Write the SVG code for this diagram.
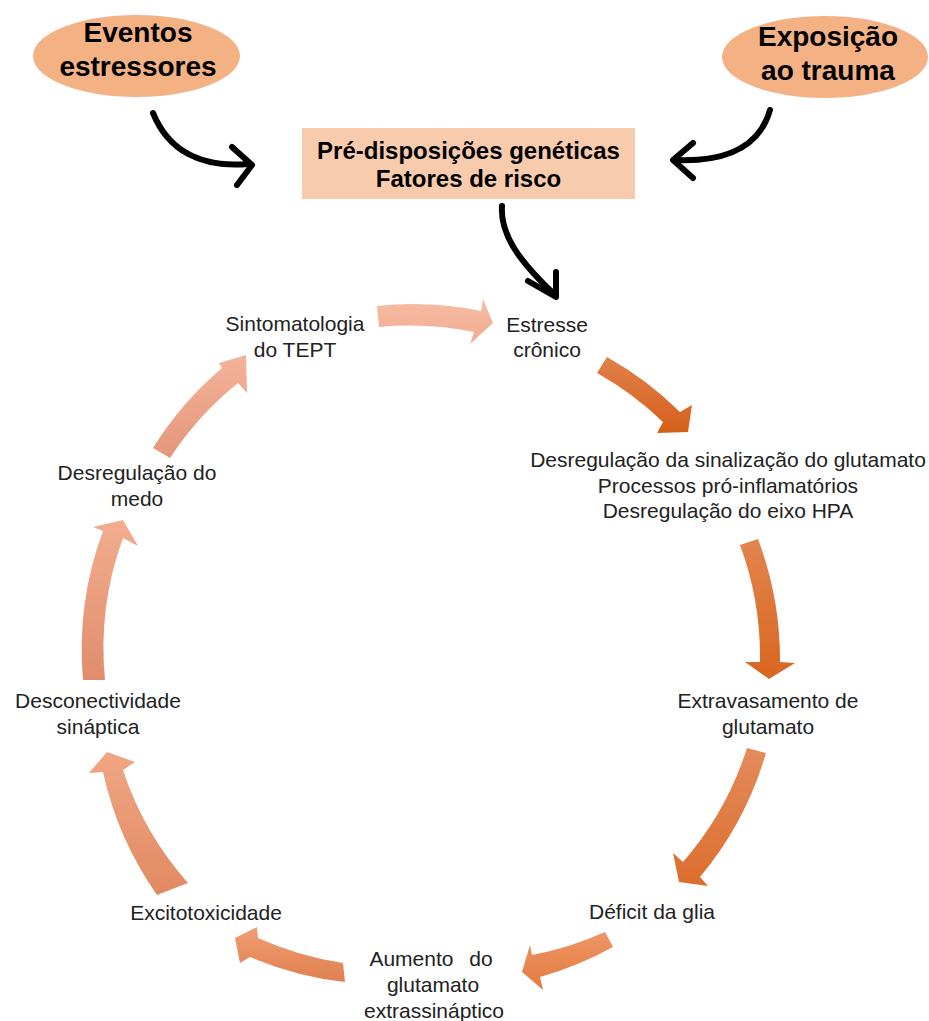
<svg xmlns="http://www.w3.org/2000/svg" width="929" height="1021" viewBox="0 0 929 1021">
<style>
.bold{font-family:"Liberation Sans",Arial,sans-serif;font-weight:bold;fill:#000;text-anchor:middle}
.lbl{font-family:"Liberation Sans",Arial,sans-serif;font-size:21px;fill:#222;text-anchor:middle}
.blk{fill:none;stroke:#000;stroke-width:6;stroke-linecap:round;stroke-linejoin:round}
</style>
<defs>
<linearGradient id="g1" x1="0" y1="0" x2="0" y2="1"><stop offset="0" stop-color="#F6BCA4"/><stop offset="1" stop-color="#F2AC90"/></linearGradient>
<linearGradient id="g2" x1="0" y1="0" x2="0" y2="1"><stop offset="0" stop-color="#E2804A"/><stop offset="1" stop-color="#D4601B"/></linearGradient>
<linearGradient id="g3" x1="0" y1="0" x2="0" y2="1"><stop offset="0" stop-color="#E2854F"/><stop offset="1" stop-color="#D8661F"/></linearGradient>
<linearGradient id="g4" x1="0" y1="0" x2="0" y2="1"><stop offset="0" stop-color="#E48B5D"/><stop offset="1" stop-color="#DC6E2D"/></linearGradient>
<linearGradient id="g5" x1="0" y1="0" x2="0" y2="1"><stop offset="0" stop-color="#EE9564"/><stop offset="1" stop-color="#E37B43"/></linearGradient>
<linearGradient id="g6" x1="0" y1="0" x2="0" y2="1"><stop offset="0" stop-color="#F09E74"/><stop offset="1" stop-color="#E0804F"/></linearGradient>
<linearGradient id="g7" x1="0" y1="0" x2="0" y2="1"><stop offset="0" stop-color="#F1A684"/><stop offset="1" stop-color="#E08A62"/></linearGradient>
<linearGradient id="g8" x1="0" y1="0" x2="0" y2="1"><stop offset="0" stop-color="#F3AD8F"/><stop offset="1" stop-color="#E08D6C"/></linearGradient>
<linearGradient id="g9" x1="0" y1="0" x2="0" y2="1"><stop offset="0" stop-color="#F5B39A"/><stop offset="1" stop-color="#E49679"/></linearGradient>
</defs>
<rect width="929" height="1021" fill="#fff"/>

<g id="node-eventos">
<ellipse cx="136.5" cy="56" rx="103.5" ry="41" fill="#F4B183"/>
<text class="bold" font-size="28" x="138" y="42">Eventos</text>
<text class="bold" font-size="28" x="138" y="76">estressores</text>
</g>
<g id="node-exposicao">
<ellipse cx="825" cy="57" rx="103" ry="41" fill="#F4B183"/>
<text class="bold" font-size="28" x="828" y="46">Exposição</text>
<text class="bold" font-size="28" x="828" y="80">ao trauma</text>
</g>
<g id="node-predisposicoes">
<rect x="302" y="128" width="333" height="71" fill="#F8CBAD"/>
<text class="bold" font-size="24" x="468.5" y="159">Pré-disposições genéticas</text>
<text class="bold" font-size="24" x="468.5" y="187">Fatores de risco</text>
</g>

<g id="connectors">
<path class="blk" d="M153,113 C168,150 200,168 248,164"/>
<path class="blk" d="M232,147 L252,165 L237,185"/>
<path class="blk" d="M770,110 C760,145 730,162 676,160"/>
<path class="blk" d="M693,143 L673,160 L693,178"/>
<path class="blk" d="M502,206 C500,235 520,262 555,295"/>
<path class="blk" d="M528,281 L556,297 L556,272"/>

<path fill="url(#g1)" d="M377,306 A342,342 0 0,1 481,311 L483,299 L493,323 L470,344 L474,332 A322,322 0 0,0 379,327 Z"/>
<path fill="url(#g2)" d="M597,373 L607,357 A342,342 0 0,1 680,412 L692,405 L688,432 L657,433 L663,422 A322,322 0 0,0 597,373 Z"/>
<path fill="url(#g3)" d="M740,545 L758,539 A342,342 0 0,1 780,662 L795,663 L769,679 L745,662 L760,662 A322,322 0 0,0 740,545 Z"/>
<path fill="url(#g4)" d="M747,748 L766,753 A342,342 0 0,1 700,877 L708,886 L679,882 L673,853 L683,862 A322,322 0 0,0 747,748 Z"/>
<path fill="url(#g5)" d="M605,932 L613,947 A342,342 0 0,1 540,977 L543,990 L522,972 L530,945 L532,955 A322,322 0 0,0 605,932 Z"/>
<path fill="url(#g6)" d="M343,963 L345,982 A342,342 0 0,1 250,957 L240,963 L235,938 L257,927 L258,938 A322,322 0 0,0 343,963 Z"/>
<path fill="url(#g7)" d="M188,883 L157,895 A342,342 0 0,1 103,772 L89,773 L107,752 L135,762 L123,770 A322,322 0 0,0 188,883 Z"/>
<path fill="url(#g8)" d="M105,680 L83,680 A342,342 0 0,1 103,531 L93,527 L123,520 L138,546 L123,538 A322,322 0 0,0 105,680 Z"/>
<path fill="url(#g9)" d="M170,458 L153,448 A342,342 0 0,1 222,368 L219,363 L246,355 L247,393 L238,383 A322,322 0 0,0 170,458 Z"/>
</g>

<g id="node-estresse"><text class="lbl" x="547" y="332">Estresse</text><text class="lbl" x="547" y="357">crônico</text></g>
<g id="node-desregulacao-glutamato">
<text class="lbl" x="728" y="467">Desregulação da sinalização do glutamato</text>
<text class="lbl" x="728" y="493">Processos pró-inflamatórios</text>
<text class="lbl" x="728" y="518">Desregulação do eixo HPA</text>
</g>
<g id="node-extravasamento"><text class="lbl" x="768" y="708">Extravasamento de</text><text class="lbl" x="768" y="734">glutamato</text></g>
<g id="node-deficit"><text class="lbl" x="652" y="919">Déficit da glia</text></g>
<g id="node-aumento">
<text class="lbl" x="431" y="966">Aumento <tspan dx="10">do</tspan></text>
<text class="lbl" x="433" y="992">glutamato</text>
<text class="lbl" x="434" y="1018">extrassináptico</text>
</g>
<g id="node-excitotoxicidade"><text class="lbl" x="206" y="920">Excitotoxicidade</text></g>
<g id="node-desconectividade"><text class="lbl" x="98" y="708">Desconectividade</text><text class="lbl" x="98" y="734">sináptica</text></g>
<g id="node-desregulacao-medo"><text class="lbl" x="137" y="480">Desregulação do</text><text class="lbl" x="137" y="506">medo</text></g>
<g id="node-sintomatologia"><text class="lbl" x="295" y="331">Sintomatologia</text><text class="lbl" x="295" y="357">do TEPT</text></g>
</svg>
